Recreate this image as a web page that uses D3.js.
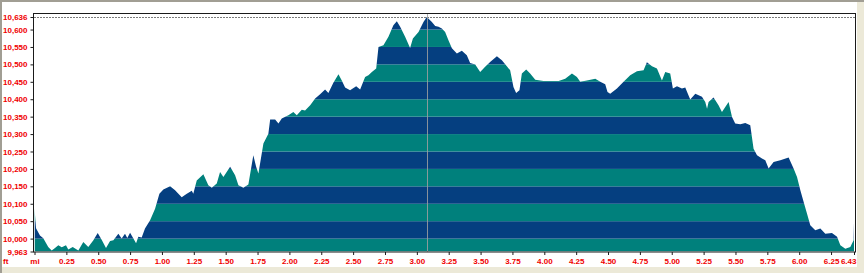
<!DOCTYPE html>
<html>
<head>
<meta charset="utf-8">
<script src="https://cdn.jsdelivr.net/npm/d3@7"></script>
<style>
  html, body { margin: 0; padding: 0; background: #fff; }
  svg { display: block; }
  .tick text { font-family: "Liberation Sans", Arial, sans-serif; font-weight: bold; font-size: 8px; fill: #f00000; }
</style>
</head>
<body>
<div id="chart"></div>
<script>
// elevation profile, distance in miles / elevation in feet
const distMi = [0, 0.012, 0.043, 0.069, 0.108, 0.135, 0.161, 0.187, 0.214, 0.247,
  0.265, 0.300, 0.344, 0.383, 0.422, 0.462, 0.496, 0.527, 0.561, 0.593,
  0.619, 0.658, 0.684, 0.710, 0.728, 0.750, 0.776, 0.797, 0.815, 0.841,
  0.867, 0.907, 0.946, 0.980, 1.011, 1.064, 1.103, 1.155, 1.195, 1.234,
  1.246, 1.273, 1.325, 1.364, 1.391, 1.430, 1.456, 1.482, 1.535, 1.574,
  1.600, 1.639, 1.678, 1.717, 1.739, 1.757, 1.796, 1.835, 1.849, 1.888,
  1.914, 1.940, 1.992, 2.031, 2.058, 2.097, 2.123, 2.163, 2.202, 2.241,
  2.280, 2.306, 2.345, 2.385, 2.411, 2.437, 2.476, 2.524, 2.555, 2.594,
  2.620, 2.647, 2.681, 2.699, 2.738, 2.777, 2.816, 2.843, 2.869, 2.908,
  2.947, 2.969, 3.013, 3.052, 3.078, 3.118, 3.144, 3.170, 3.196, 3.222,
  3.248, 3.275, 3.314, 3.353, 3.392, 3.418, 3.458, 3.497, 3.536, 3.575,
  3.628, 3.667, 3.706, 3.732, 3.758, 3.779, 3.805, 3.824, 3.858, 3.889,
  3.929, 3.994, 4.046, 4.112, 4.164, 4.217, 4.256, 4.282, 4.334, 4.400,
  4.439, 4.478, 4.496, 4.517, 4.570, 4.622, 4.674, 4.727, 4.779, 4.805,
  4.845, 4.884, 4.923, 4.949, 4.988, 5.009, 5.041, 5.080, 5.106, 5.145,
  5.185, 5.237, 5.263, 5.277, 5.289, 5.328, 5.367, 5.394, 5.446, 5.473,
  5.498, 5.538, 5.577, 5.616, 5.642, 5.669, 5.708, 5.734, 5.760, 5.799,
  5.852, 5.917, 5.956, 5.983, 6.009, 6.035, 6.061, 6.087, 6.126, 6.166,
  6.205, 6.257, 6.297, 6.323, 6.362, 6.401, 6.427, 6.430];

const elevFt = [10087, 10030, 10009, 10001, 9976, 9966, 9973, 9981, 9975, 9981,
  9969, 9976, 9966, 9990, 9976, 9995, 10016, 9997, 9973, 9993,
  9995, 10014, 10000, 10014, 10002, 10017, 10000, 9987, 10005, 10003,
  10029, 10053, 10086, 10129, 10141, 10150, 10139, 10119, 10129, 10137,
  10129, 10167, 10185, 10153, 10146, 10158, 10191, 10177, 10206, 10182,
  10153, 10146, 10155, 10239, 10206, 10187, 10273, 10301, 10342, 10342,
  10330, 10345, 10354, 10363, 10354, 10370, 10368, 10383, 10402, 10414,
  10428, 10418, 10447, 10472, 10454, 10434, 10426, 10437, 10428, 10464,
  10469, 10478, 10488, 10550, 10555, 10579, 10612, 10624, 10608, 10579,
  10547, 10574, 10593, 10622, 10636, 10622, 10610, 10608, 10603, 10593,
  10569, 10546, 10531, 10539, 10526, 10504, 10500, 10478, 10493, 10507,
  10523, 10512, 10495, 10483, 10435, 10418, 10426, 10474, 10485, 10474,
  10456, 10452, 10452, 10452, 10459, 10474, 10464, 10450, 10454, 10459,
  10450, 10443, 10421, 10416, 10431, 10450, 10469, 10480, 10483, 10506,
  10495, 10488, 10454, 10478, 10474, 10431, 10437, 10431, 10434, 10399,
  10416, 10407, 10392, 10373, 10392, 10405, 10383, 10363, 10392, 10349,
  10330, 10328, 10332, 10325, 10258, 10239, 10230, 10225, 10201, 10220,
  10225, 10233, 10201, 10177, 10139, 10105, 10072, 10038, 10024, 10029,
  10014, 10016, 10005, 9981, 9971, 9976, 9995, 10047];

const yTicks = [9963, 10000, 10050, 10100, 10150, 10200, 10250, 10300, 10350,
  10400, 10450, 10500, 10550, 10600, 10636];
const xTicks = [0, 0.25, 0.5, 0.75, 1, 1.25, 1.5, 1.75, 2, 2.25, 2.5, 2.75, 3,
  3.25, 3.5, 3.75, 4, 4.25, 4.5, 4.75, 5, 5.25, 5.5, 5.75, 6, 6.25, 6.43];
const bandStarts = [10000, 10050, 10100, 10150, 10200, 10250, 10300, 10350,
  10400, 10450, 10500, 10550, 10600];
const cursorMi = 3.078;

const W = 864, H = 273;
const navy = '#053f80', teal = '#00807c';

const svg = d3.select('#chart').append('svg')
  .attr('width', W)
  .attr('height', H);

// window chrome
svg.append('rect').attr('width', W).attr('height', H).attr('fill', '#ece9d8');
svg.append('rect').attr('x', 2).attr('y', 2).attr('width', 855).attr('height', 265).attr('fill', '#fff');
svg.append('rect').attr('width', W).attr('height', 2).attr('fill', '#a19e94');
svg.append('rect').attr('width', 2).attr('height', H).attr('fill', '#a19e94');

const x = d3.scaleLinear().domain([0, 6.43]).range([34.5, 854]);
const y = d3.scaleLinear().domain([9963, 10636]).range([251.5, 17]);

const data = distMi.map((d, i) => ({ d, e: elevFt[i] }));

const area = d3.area()
  .x(p => x(p.d))
  .y0(y(9963))
  .y1(p => y(p.e));

svg.append('clipPath').attr('id', 'profile')
  .append('path')
  .attr('d', area(data));

const bands = svg.append('g').attr('clip-path', 'url(#profile)');

// below 10,000 teal, then navy/teal alternating every 50 ft
bands.append('rect')
  .attr('x', x(0)).attr('width', x(6.43) - x(0))
  .attr('y', y(10000)).attr('height', y(9963) - y(10000))
  .attr('fill', teal);

bands.selectAll('rect.band')
  .data(bandStarts)
  .join('rect')
  .attr('class', 'band')
  .attr('x', x(0)).attr('width', x(6.43) - x(0))
  .attr('y', d => y(d + 50))
  .attr('height', d => y(d) - y(d + 50))
  .attr('fill', (d, i) => i % 2 === 0 ? navy : teal);

// max elevation dashed line
svg.append('line')
  .attr('x1', 34).attr('x2', 855)
  .attr('y1', Math.round(y(10636)) + 0.5).attr('y2', Math.round(y(10636)) + 0.5)
  .attr('stroke', '#7a7a7a')
  .attr('stroke-dasharray', '2,1');

// cursor line
svg.append('line')
  .attr('x1', Math.round(x(cursorMi)) + 0.5).attr('x2', Math.round(x(cursorMi)) + 0.5)
  .attr('y1', 14).attr('y2', 252)
  .attr('stroke', '#a0a0a0')
  .attr('stroke-opacity', 0.85);

// frame
svg.append('rect')
  .attr('x', 33.5).attr('y', 13.5)
  .attr('width', 822).attr('height', 238.5)
  .attr('fill', 'none')
  .attr('stroke', '#1a1a1a');

// axes
const yAxis = svg.append('g')
  .attr('transform', 'translate(33.5,0)')
  .call(d3.axisLeft(y).tickValues(yTicks).tickSize(3).tickPadding(3).tickFormat(d3.format(',')));
yAxis.select('.domain').remove();
yAxis.selectAll('.tick line').attr('stroke', '#1a1a1a');

const xAxis = svg.append('g')
  .attr('transform', 'translate(0,252)')
  .call(d3.axisBottom(x).tickValues(xTicks).tickSize(3).tickPadding(3)
    .tickFormat(d => d === 0 ? 'mi' : d3.format('.2f')(d)));
xAxis.select('.domain').remove();
xAxis.selectAll('.tick line').attr('stroke', '#1a1a1a');
xAxis.selectAll('.tick text')
  .filter(d => d === 6.43)
  .attr('text-anchor', 'end')
  .attr('dx', 2);

svg.append('text')
  .attr('x', 3).attr('y', 264)
  .attr('font-family', '"Liberation Sans", Arial, sans-serif')
  .attr('font-weight', 'bold')
  .attr('font-size', 8)
  .attr('fill', '#f00000')
  .text('ft');
</script>
</body>
</html>
